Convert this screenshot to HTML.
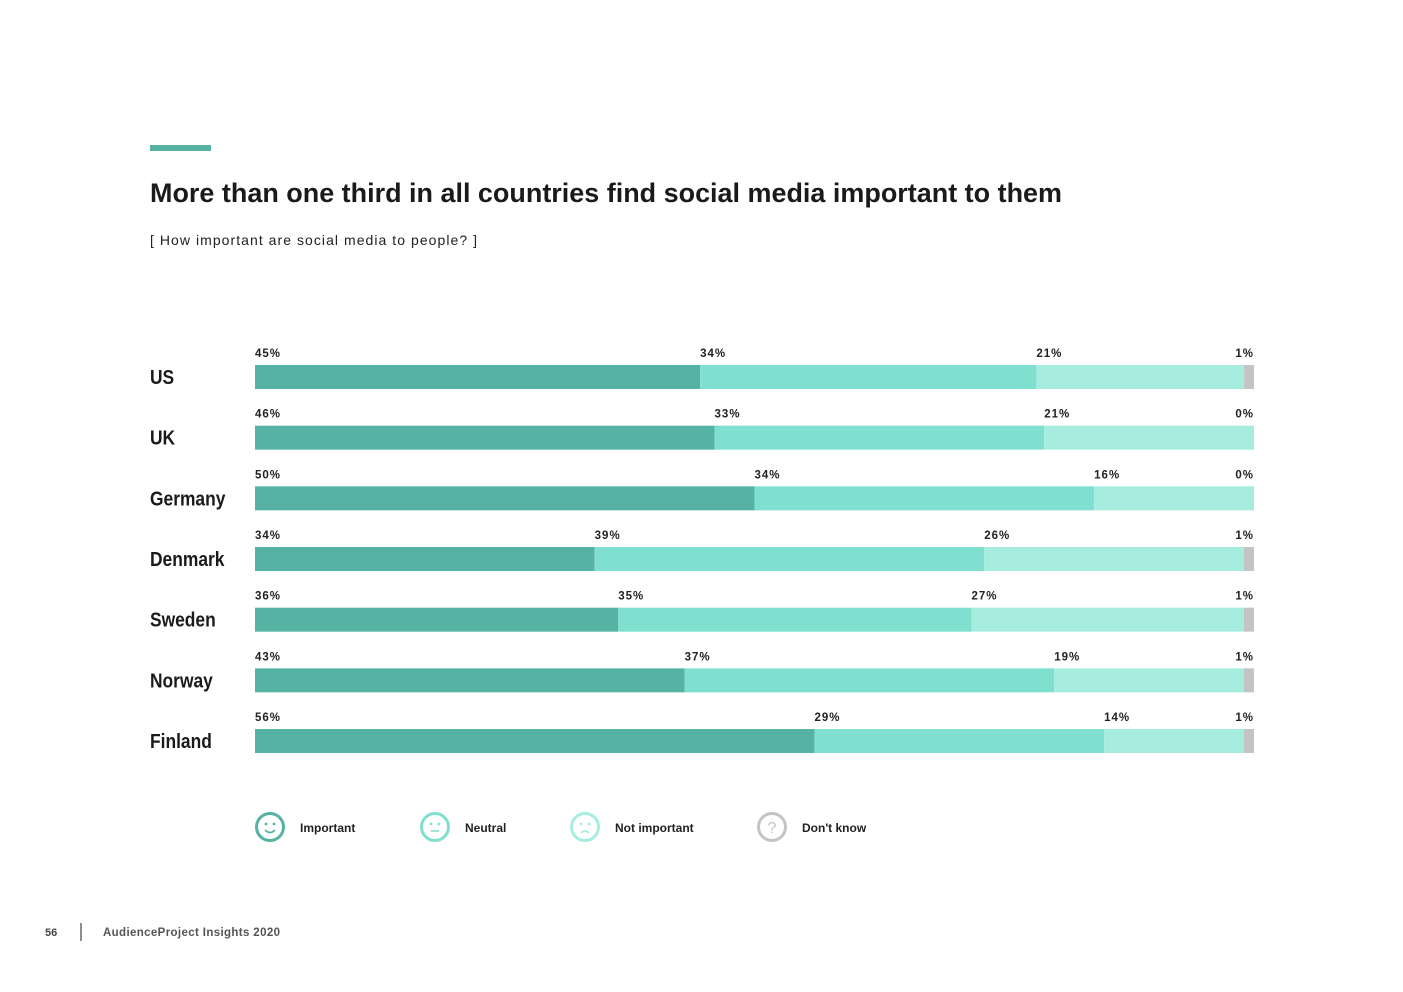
<!DOCTYPE html>
<html><head><meta charset="utf-8"><style>
body{margin:0;background:#fff;width:1403px;height:992px;overflow:hidden;font-family:"Liberation Sans",sans-serif;}
svg{display:block}
</style></head><body>
<svg id="chart" width="1403" height="992">
<rect x="150" y="145" width="61" height="6" fill="#56b3a3"/>
<text x="150" y="202" font-size="27" font-weight="bold" fill="#1a1a1a" textLength="912" lengthAdjust="spacingAndGlyphs">More than one third in all countries find social media important to them</text>
<text x="150" y="245" font-size="14" fill="#222" textLength="327" lengthAdjust="spacing">[ How important are social media to people? ]</text>
<g id="bars"></g>
<g id="legend"></g>
<text x="45" y="936" font-size="11" font-weight="bold" fill="#444">56</text>
<line x1="81" y1="923" x2="81" y2="941" stroke="#222" stroke-width="1"/>
<text x="103" y="936" font-size="11.5" font-weight="bold" fill="#555" textLength="177" lengthAdjust="spacing">AudienceProject Insights 2020</text>
</svg>
<script>
const countries=["US","UK","Germany","Denmark","Sweden","Norway","Finland"];
const important=[45,46,50,34,36,43,56];
const neutral=[34,33,34,39,35,37,29];
const notImportant=[21,21,16,26,27,19,14];
const dontKnow=[1,0,0,1,1,1,1];
const seriesNames=["Important","Neutral","Not important","Don't know"];
const colors=["#56b3a3","#80e0cf","#a6ede0","#c4c4c4"];
const NS="http://www.w3.org/2000/svg";
const X0=255,X1=1254,Y0=365,STEP=60.67,BH=24;
function mk(t,a,p){const e=document.createElementNS(NS,t);for(const k in a)e.setAttribute(k,a[k]);p.appendChild(e);return e;}
const g=document.getElementById('bars');
const series=[important,neutral,notImportant,dontKnow];
countries.forEach((c,i)=>{
  const y=Y0+i*STEP;
  const lab=mk('text',{x:150/0.87,y:y+19,'font-size':20,'font-weight':'bold',fill:'#1a1a1a',transform:'scale(0.87,1)'},g);
  lab.textContent=c;
  
  
  const total=series.reduce((s,a)=>s+a[i],0);
  const sx=v=>(X1-X0)*v/total;
  let x=X0;
  series.forEach((arr,j)=>{
    const w=sx(arr[i]);
    const r=mk('rect',{x:x,y:y,width:Math.max(w,0),height:BH,fill:colors[j]},g);
    
    
    const last=j===series.length-1;
    const t=mk('text',{x:last?X1:x,y:y-8,'font-size':11.5,'font-weight':'bold',fill:'#222','letter-spacing':'1','text-anchor':last?'end':'start'},g);
    t.textContent=arr[i]+'%';
    
    
    x+=w;
  });
});
const lg=document.getElementById('legend');
const lx=[270,435,585,772];
const faces=["smile","flat","frown","q"];
seriesNames.forEach((n,j)=>{
  const cx=lx[j],cy=827;
  const ent=mk('g',{},lg);
  
  
  mk('circle',{cx:cx,cy:cy,r:13.5,fill:'none',stroke:colors[j],'stroke-width':3},ent);
  if(faces[j]==='q'){const q=mk('text',{x:cx,y:cy+6,'font-size':16,'text-anchor':'middle',fill:colors[j]},ent);q.textContent='?';}
  else{
    mk('circle',{cx:cx-4,cy:cy-3,r:1.4,fill:colors[j]},ent);
    mk('circle',{cx:cx+4,cy:cy-3,r:1.4,fill:colors[j]},ent);
    const d=faces[j]==='smile'?`M${cx-5} ${cy+3} Q${cx} ${cy+8} ${cx+5} ${cy+3}`:faces[j]==='flat'?`M${cx-4} ${cy+4} L${cx+4} ${cy+4}`:`M${cx-4} ${cy+6} Q${cx} ${cy+2} ${cx+4} ${cy+6}`;
    mk('path',{d:d,fill:'none',stroke:colors[j],'stroke-width':1.6},ent);
  }
  const t=mk('text',{x:cx+30,y:cy+5,'font-size':12,'font-weight':'bold',fill:'#222'},ent);
  t.textContent=n;
});
</script>
</body></html>
